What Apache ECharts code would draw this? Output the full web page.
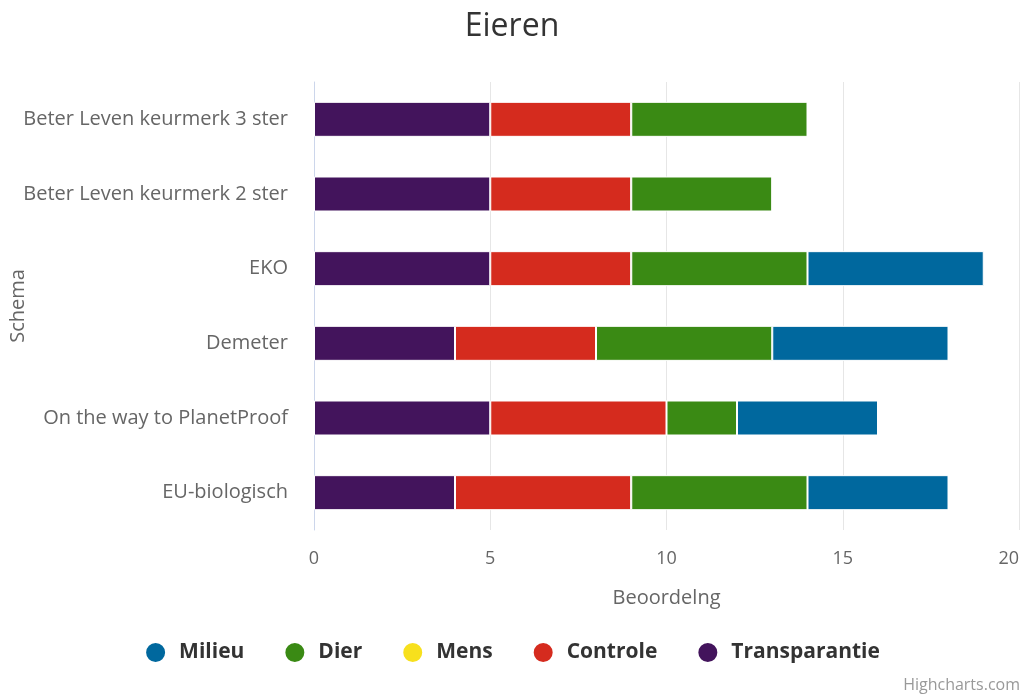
<!DOCTYPE html>
<html>
<head>
<meta charset="utf-8">
<script src="https://cdn.jsdelivr.net/npm/echarts@6/dist/echarts.min.js"></script>
<style>
  html, body { margin: 0; padding: 0; background: #fff; }
  #chart { width: 1024px; height: 695px; }
</style>
</head>
<body>
<div id="chart"></div>
<script>
// categories, top to bottom as shown
var categories = ['Beter Leven keurmerk 3 ster', 'Beter Leven keurmerk 2 ster', 'EKO', 'Demeter', 'On the way to PlanetProof', 'EU-biologisch']
var transparantie = [5, 5, 5, 4, 5, 4]
var controle = [4, 4, 4, 4, 5, 5]
var mens = [0, 0, 0, 0, 0, 0]
var dier = [5, 4, 5, 5, 2, 5]
var milieu = [0, 0, 5, 5, 4, 4]
var legendOrder = ['Milieu', 'Dier', 'Mens', 'Controle', 'Transparantie']

var font = '"Open Sans", "DejaVu Sans", sans-serif'
var myChart = echarts.init(document.getElementById('chart'))

function bar (name, data, color) {
    return {
        name: name,
        type: 'bar',
        stack: 'total',
        data: data,
        barWidth: 35,
        itemStyle: { color: color, borderColor: '#fff', borderWidth: 1 }
    }
}

myChart.setOption({
    animation: false,
    textStyle: { fontFamily: font },
    title: {
        text: 'Eieren',
        left: 'center',
        top: 6,
        textStyle: { fontSize: 32, fontWeight: 'normal', color: '#333', fontFamily: font }
    },
    legend: {
        data: legendOrder,
        bottom: 26,
        left: 'center',
        icon: 'circle',
        itemWidth: 21,
        itemHeight: 21,
        itemGap: 39,
        textStyle: { fontSize: 21, fontWeight: 'bold', color: '#333', fontFamily: font, padding: [0, 0, 0, 8] }
    },
    grid: { left: 314, right: 5, top: 82, bottom: 165, outerBoundsMode: 'none' },
    xAxis: {
        type: 'value',
        min: 0,
        max: 20,
        interval: 5,
        name: 'Beoordelng',
        nameLocation: 'middle',
        nameGap: 58,
        nameTextStyle: { fontSize: 20, color: '#666', fontFamily: font },
        axisLine: { show: false },
        axisTick: { show: false },
        axisLabel: { fontSize: 18, color: '#666', margin: 20, fontFamily: font, alignMaxLabel: 'right' },
        splitLine: { lineStyle: { color: '#e6e6e6', width: 1 } }
    },
    yAxis: {
        type: 'category',
        inverse: true,
        data: categories,
        name: 'Schema',
        nameLocation: 'middle',
        nameGap: 286,
        nameRotate: 90,
        nameMoveOverlap: false,
        nameTextStyle: { fontSize: 20, color: '#666', fontFamily: font },
        axisLine: { lineStyle: { color: '#ccd6eb' } },
        axisTick: { show: false },
        axisLabel: { fontSize: 20, color: '#666', margin: 26, fontFamily: font }
    },
    series: [
        bar('Transparantie', transparantie, '#43145c'),
        bar('Controle', controle, '#d52b1e'),
        bar('Mens', mens, '#f7e01d'),
        bar('Dier', dier, '#3a8a14'),
        bar('Milieu', milieu, '#00689e')
    ],
    graphic: [{
        type: 'text',
        right: 4,
        bottom: 2,
        style: { text: 'Highcharts.com', fontSize: 16, fill: '#999', fontFamily: font }
    }]
})
window.onresize = myChart.resize
</script>
</body>
</html>
